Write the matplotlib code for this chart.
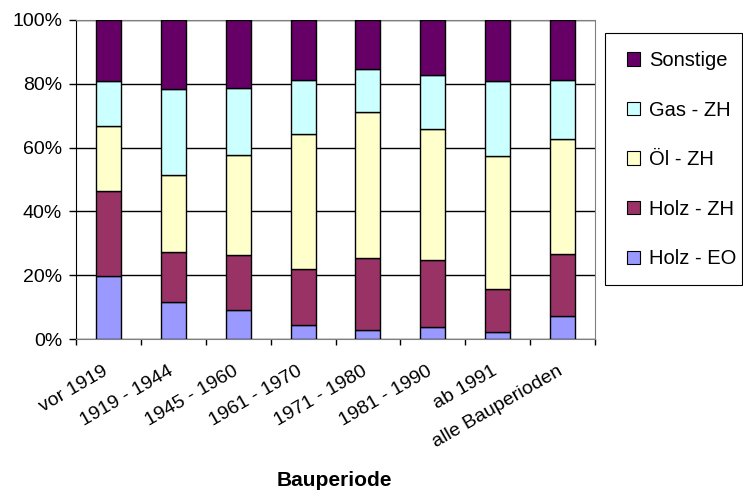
import numpy as np
import matplotlib.pyplot as plt
import matplotlib.transforms as mtransforms
from matplotlib.patches import Patch, Rectangle

plt.rcParams['font.family'] = ['Liberation Sans', 'DejaVu Sans']

# Anteile je Bauperiode (in %)
perioden = ['vor 1919', '1919 - 1944', '1945 - 1960', '1961 - 1970',
            '1971 - 1980', '1981 - 1990', 'ab 1991', 'alle Bauperioden']
holz_eo = [19.9, 11.6, 9.2, 4.3, 2.8, 3.9, 2.3, 7.3]
holz_zh = [26.6, 15.7, 17.2, 17.7, 22.7, 21.0, 13.4, 19.5]
oel_zh = [20.2, 24.2, 31.4, 42.2, 45.6, 40.8, 41.8, 36.0]
gas_zh = [14.1, 26.9, 21.0, 17.1, 13.6, 17.1, 23.4, 18.5]
sonstige = [19.2, 21.6, 21.2, 18.7, 15.3, 17.2, 19.1, 18.7]

serien = [('Holz - EO', holz_eo, '#9999FF'),
          ('Holz - ZH', holz_zh, '#993366'),
          ('Öl - ZH', oel_zh, '#FFFFCC'),
          ('Gas - ZH', gas_zh, '#CCFFFF'),
          ('Sonstige', sonstige, '#660066')]

W, H = 743, 493
fig = plt.figure(figsize=(W / 100, H / 100), dpi=100)
ax = fig.add_axes([76 / W, 1 - 339 / H, (595 - 76) / W, (339 - 20) / H])

x = np.arange(len(perioden))
unten = np.zeros(len(perioden))
for name, werte, farbe in serien:
    werte = np.array(werte)
    ax.bar(x, werte, width=0.385, bottom=unten, color=farbe,
           edgecolor='black', linewidth=1.0, zorder=3)
    unten += werte

ax.set_xlim(-0.5, len(perioden) - 0.5)
ax.set_ylim(0, 100)
ax.set_yticks(np.arange(0, 101, 20))
ax.set_yticklabels([f'{v}%' for v in range(0, 101, 20)], fontsize=14)
ax.yaxis.grid(True, color='black', linewidth=1.0, zorder=0)

# Kategorienamen mittig, Teilstriche zwischen den Balken
ax.set_xticks(x)
ax.set_xticklabels(perioden, rotation=30, ha='right', rotation_mode='anchor',
                   fontsize=14)
ax.tick_params(axis='x', length=0, pad=17)
verschiebung = mtransforms.ScaledTranslation(-6 / 100, 0, fig.dpi_scale_trans)
for lbl in ax.get_xticklabels():
    lbl.set_transform(lbl.get_transform() + verschiebung)
ax.set_xticks(np.arange(-0.5, len(perioden)), minor=True)
ax.tick_params(axis='x', which='minor', length=4.5, width=1, color='black')
ax.tick_params(axis='y', length=5, width=1, color='black', pad=5)

for s in ['top', 'right', 'bottom']:
    ax.spines[s].set_color('#808080')
ax.spines['left'].set_color('black')

fig.text(334.5 / W, 1 - 480 / H, 'Bauperiode', ha='center',
         va='center', fontsize=15, fontweight='bold')

# Legende ohne eigenen Rahmen, Rahmen separat
handles = [Patch(facecolor=f, edgecolor='black', linewidth=0.8, label=n)
           for n, _, f in serien[::-1]]
leg = fig.legend(handles=handles, loc='upper left',
                 bbox_to_anchor=(627 / W, 1 - 51 / H), borderaxespad=0,
                 borderpad=0, fontsize=14.5, handlelength=0.65,
                 handleheight=0.65, handletextpad=0.45, labelspacing=1.52,
                 frameon=False)
fig.patches.append(Rectangle((605 / W, 1 - 285 / H), (742 - 605) / W,
                             (285 - 33) / H, transform=fig.transFigure,
                             fill=False, edgecolor='black', linewidth=0.8))

fig.savefig('out.png', dpi=100)
